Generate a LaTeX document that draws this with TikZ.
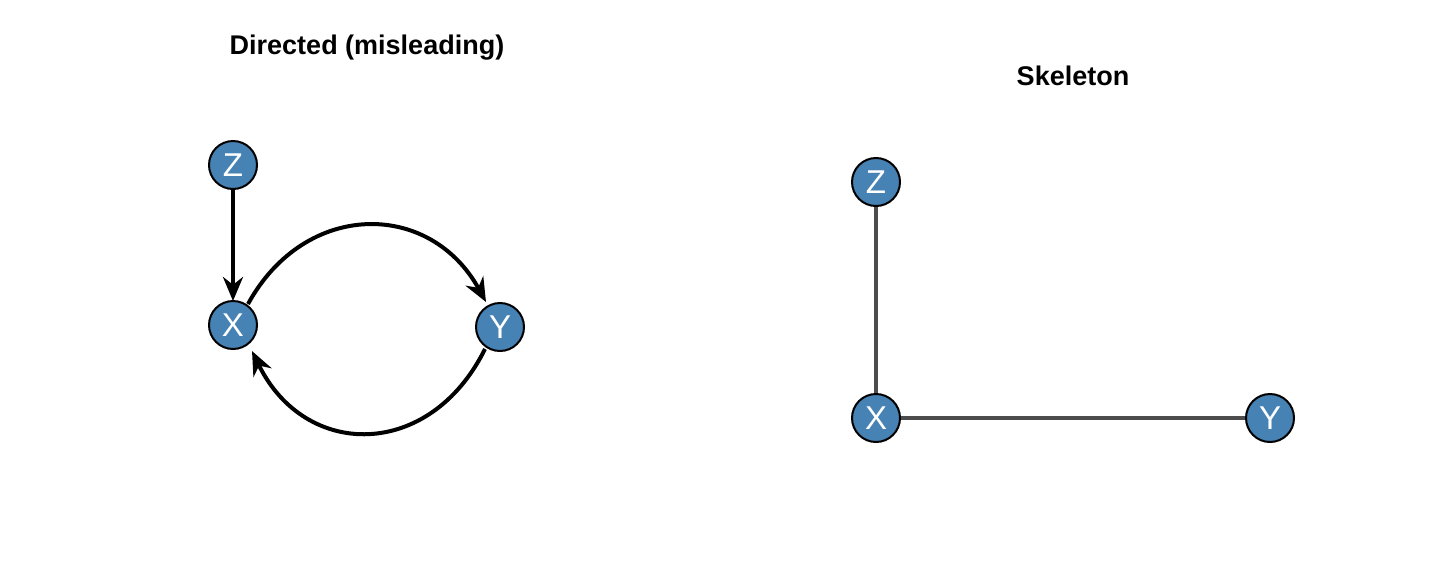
\documentclass[tikz,border=0pt]{standalone}
\usepackage{fontspec}
\setmainfont{Liberation Sans}
\usetikzlibrary{arrows.meta}
\definecolor{nodeblue}{HTML}{4682B4}
\begin{document}
\begin{tikzpicture}[x=1pt,y=-1pt,
  vert/.style={circle,draw=black,line width=2pt,fill=nodeblue,minimum size=48pt,inner sep=0pt,text=white,font=\fontsize{33}{33}\selectfont},
  title/.style={font=\bfseries\fontsize{27}{27}\selectfont},
  dir/.style={line width=4pt,-{Stealth[length=24pt,width=20pt]}},
  skel/.style={line width=4pt,draw=black!70}]
\useasboundingbox (0,0) rectangle (1440,560);
\node[title] (t1) at (367,48) {Directed (misleading)};
\node[title] (t2) at (1073,76) {Skeleton};
\draw[dir] (233,189) -- (233,301);
\draw[dir] (248,304) .. controls (305,200) and (430,200) .. (486,302);
\draw[dir] (485,349) .. controls (430,460) and (305,460) .. (252,351);
\draw[skel] (876,206) -- (876,394);
\draw[skel] (900,418) -- (1246,418);
\node[vert] (z1) at (233,165) {Z};
\node[vert] (x1) at (233,325) {X};
\node[vert] (y1) at (500,327) {Y};
\node[vert] (z2) at (876,182) {Z};
\node[vert] (x2) at (876,418) {X};
\node[vert] (y2) at (1270,418) {Y};
\end{tikzpicture}
\end{document}
